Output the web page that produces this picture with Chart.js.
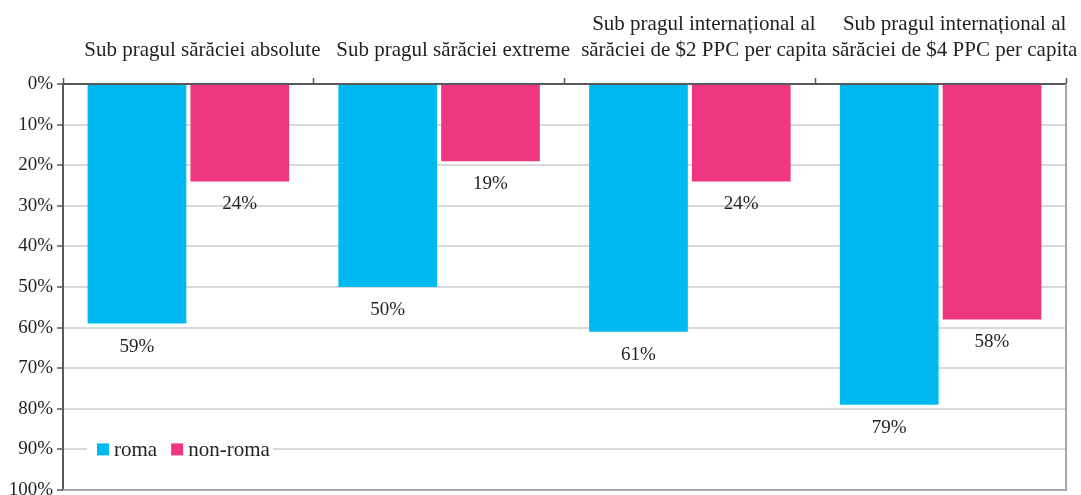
<!DOCTYPE html>
<html><head><meta charset="utf-8">
<script src="https://cdn.jsdelivr.net/npm/chart.js@4/dist/chart.umd.min.js"></script>
<style>html,body{margin:0;padding:0;background:#fff}#wrap{width:1081px;height:495px}</style>
</head><body><div id="wrap"><canvas id="c" width="1081" height="495"></canvas></div>
<script>
const categories = [
  'Sub pragul sărăciei absolute',
  'Sub pragul sărăciei extreme',
  ['Sub pragul internațional al', 'sărăciei de $2 PPC per capita'],
  ['Sub pragul internațional al', 'sărăciei de $4 PPC per capita']
];
const romaValues = [59, 50, 61, 79];
const nonRomaValues = [24, 19, 24, 58];
const seriesNames = ['roma', 'non-roma'];
const yTicks = [0, 10, 20, 30, 40, 50, 60, 70, 80, 90, 100];

const FONT = '"Liberation Serif", "DejaVu Serif", serif';
const TXT = '#231f20';

const extrasPlugin = {
  id: 'extras',
  afterDatasetsDraw(chart) {
    const ctx = chart.ctx, a = chart.chartArea;
    ctx.save();
    ctx.strokeStyle = '#a6a6a6';
    ctx.lineWidth = 2;
    ctx.beginPath();
    ctx.moveTo(a.right, a.top); ctx.lineTo(a.right, a.bottom); ctx.lineTo(a.left, a.bottom);
    ctx.stroke();
    // data labels
    ctx.font = '19px ' + FONT;
    ctx.fillStyle = TXT;
    ctx.textAlign = 'center';
    ctx.textBaseline = 'middle';
    chart.data.datasets.forEach((ds, i) => {
      const meta = chart.getDatasetMeta(i);
      meta.data.forEach((bar, j) => {
        ctx.fillText(ds.data[j] + '%', bar.x, Math.max(bar.y, bar.base) + 23);
      });
    });
    // legend
    const ly = chart.scales.y.getPixelForValue(90);
    let x = a.left + 24;
    ctx.fillStyle = '#fff';
    ctx.fillRect(x, ly - 11, 186, 22);
    x += 10;
    ctx.font = '21px ' + FONT;
    ctx.textAlign = 'left';
    chart.data.datasets.forEach((ds) => {
      ctx.fillStyle = ds.backgroundColor;
      ctx.fillRect(x, ly - 6, 12, 12);
      ctx.fillStyle = TXT;
      ctx.fillText(ds.label, x + 17, ly + 1);
      x += 17 + ctx.measureText(ds.label).width + 14;
    });
    ctx.restore();
  }
};

new Chart(document.getElementById('c'), {
  type: 'bar',
  data: {
    labels: categories,
    datasets: [
      { label: seriesNames[0], data: romaValues, backgroundColor: '#00b9f1', categoryPercentage: 0.82, barPercentage: 0.96 },
      { label: seriesNames[1], data: nonRomaValues, backgroundColor: '#ee3780', categoryPercentage: 0.82, barPercentage: 0.96 }
    ]
  },
  options: {
    responsive: false,
    animation: false,
    layout: { padding: { left: 0, right: 15, top: 0, bottom: 5 } },
    plugins: { legend: { display: false }, tooltip: { enabled: false } },
    scales: {
      x: {
        position: 'top',
        offset: true,
        grid: { display: true, drawOnChartArea: false, offset: true, tickLength: 6, tickColor: '#595959', tickWidth: 1.5 },
        border: { display: true, color: '#595959', width: 2 },
        ticks: { color: TXT, font: { family: FONT, size: 21, lineHeight: 1.24 }, padding: 14, labelOffset: 14, maxRotation: 0, autoSkip: false },
        afterFit(s) { s.height = 84; s.paddingLeft = 0; s.paddingRight = 0; }
      },
      y: {
        reverse: true,
        min: 0, max: 100,
        afterBuildTicks(s) { s.ticks = yTicks.map(v => ({ value: v })); },
        grid: { color: '#d9d9d9', lineWidth: 2, tickLength: 6, tickColor: '#595959', tickWidth: 1.5 },
        border: { display: true, color: '#595959', width: 2 },
        ticks: { color: TXT, font: { family: FONT, size: 19 }, padding: 4, callback: v => v + '%' },
        afterFit(s) { s.width = 63; s.paddingTop = 0; s.paddingBottom = 0; }
      }
    }
  },
  plugins: [extrasPlugin]
});
</script></body></html>
